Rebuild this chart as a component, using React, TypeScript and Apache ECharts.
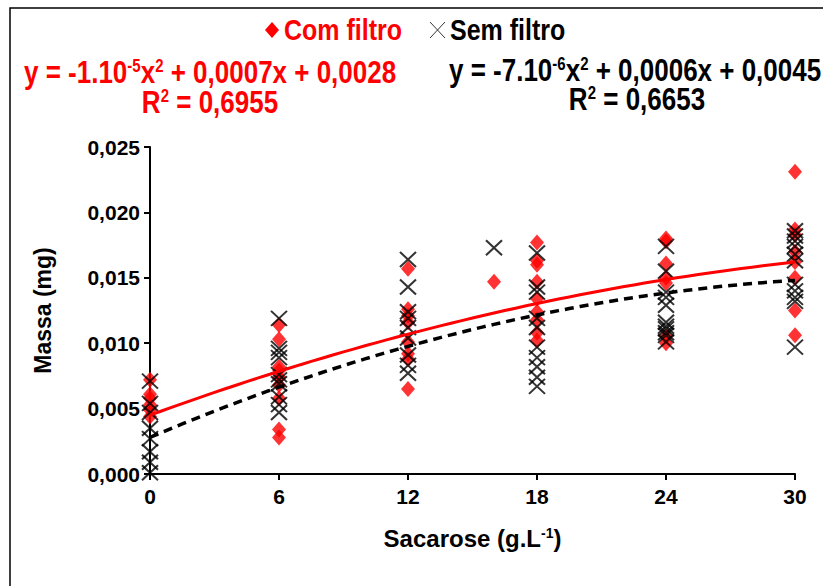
import React, { useEffect, useRef } from "react";
import * as echarts from "echarts";

// Doses of sucrose (g.L-1)
const doses = [0, 6, 12, 16, 18, 24, 30];

// "Com filtro" values (mg) per dose
const com0 = [0.0072, 0.0061, 0.0058, 0.0053, 0.0049, 0.0044];
const com6 = [0.0114, 0.0103, 0.0082, 0.0079, 0.0074, 0.0068, 0.0058, 0.0034, 0.0028];
const com12 = [0.0157, 0.0126, 0.0121, 0.0116, 0.0101, 0.0092, 0.0088, 0.0065];
const com16 = [0.0147];
const com18 = [0.0177, 0.0163, 0.016, 0.0147, 0.0134, 0.0124, 0.0118, 0.0108, 0.0102];
const com24 = [0.018, 0.0178, 0.0161, 0.015, 0.0146, 0.0105, 0.01];
const com30 = [0.0231, 0.0187, 0.0183, 0.017, 0.0162, 0.015, 0.0125, 0.0106];

// "Sem filtro" values (mg) per dose
const sem0 = [0.0071, 0.0054, 0.0047, 0.0035, 0.0027, 0.0017, 0.0009, 0.0001];
const sem6 = [0.0119, 0.0096, 0.0093, 0.0089, 0.0076, 0.0072, 0.0069, 0.0059, 0.0053, 0.0047];
const sem12 = [0.0164, 0.0143, 0.0124, 0.0119, 0.0112, 0.0104, 0.0091, 0.0083, 0.0077];
const sem16 = [0.0173];
const sem18 = [0.0169, 0.0143, 0.0139, 0.0119, 0.0112, 0.0097, 0.0089, 0.0082, 0.0074, 0.0067];
const sem24 = [0.0174, 0.0155, 0.0139, 0.0135, 0.0129, 0.0116, 0.0113, 0.0111, 0.0108, 0.0106, 0.0101];
const sem30 = [0.0186, 0.0182, 0.0178, 0.0174, 0.0168, 0.0163, 0.0145, 0.014, 0.0135, 0.0132, 0.0097];

// Trend-line coefficients [a, b, c] for a*x^2 + b*x + c (as drawn)
const trendRed = [-0.000007, 0.0006, 0.0045];
const trendBlack = [-0.00001, 0.0007, 0.0028];

const xTicks = [0, 6, 12, 18, 24, 30];
const yTicks = [0, 0.005, 0.01, 0.015, 0.02, 0.025];

const eqRed = "y = -1.10{s|-5}x{s|2} + 0,0007x + 0,0028";
const r2Red = "R{s|2} = 0,6955";
const eqBlack = "y = -7.10{s|-6}x{s|2} + 0,0006x + 0,0045";
const r2Black = "R{s|2} = 0,6653";

const comGroups = [com0, com6, com12, com16, com18, com24, com30];
const semGroups = [sem0, sem6, sem12, sem16, sem18, sem24, sem30];

const toPairs = (groups: number[][]) =>
  groups.flatMap((g, i) => g.map((v) => [doses[i], v]));

const trendPoints = (c: number[]) => {
  const pts: number[][] = [];
  for (let x = 0; x <= 30; x += 0.5) pts.push([x, c[0] * x * x + c[1] * x + c[2]]);
  return pts;
};

const FONT = "'Liberation Sans', Arial, sans-serif";
const RED = "#ff0000";

export default function App() {
  const ref = useRef<HTMLDivElement>(null);
  useEffect(() => {
    if (!ref.current) return;
    const chart = echarts.init(ref.current, null, { renderer: "svg" });
    const bigText = (
      text: string,
      x: number,
      y: number,
      color: string,
      align: string,
      size = 25
    ) => ({
      type: "text",
      x,
      y,
      scaleY: 1.18,
      style: {
        text,
        fill: color,
        font: `bold ${size}px ${FONT}`,
        textAlign: align,
        textVerticalAlign: "middle",
        rich: {
          s: {
            fill: color,
            fontFamily: FONT,
            fontWeight: "bold",
            fontSize: 15,
            padding: [0, 0, 11, 0],
          },
        },
      },
    });
    chart.setOption({
      animation: false,
      backgroundColor: "#ffffff",
      grid: { left: 150, right: 28, top: 147, bottom: 112, outerBoundsMode: "none" },
      xAxis: {
        type: "value",
        min: 0,
        max: 30,
        interval: 6,
        name: "Sacarose (g.L{s|-1})",
        nameLocation: "middle",
        nameGap: 52,
        nameTextStyle: {
          fontFamily: FONT,
          fontWeight: "bold",
          fontSize: 24,
          color: "#000",
          rich: {
            s: {
              fontFamily: FONT,
              fontWeight: "bold",
              fontSize: 14,
              color: "#000",
              padding: [0, 0, 10, 0],
            },
          },
        },
        axisLine: { show: true, lineStyle: { color: "#000", width: 2 } },
        axisTick: { show: true, length: 6, lineStyle: { color: "#000", width: 2 } },
        axisLabel: {
          fontFamily: FONT,
          fontWeight: "bold",
          fontSize: 21,
          color: "#000",
          margin: 12,
          formatter: (v: number) => (xTicks.includes(v) ? String(v) : ""),
        },
        splitLine: { show: false },
      },
      yAxis: {
        type: "value",
        min: 0,
        max: 0.025,
        interval: 0.005,
        name: "Massa (mg)",
        nameLocation: "middle",
        nameGap: 96,
        nameTextStyle: { fontFamily: FONT, fontWeight: "bold", fontSize: 23, color: "#000" },
        axisLine: { show: true, lineStyle: { color: "#000", width: 2 } },
        axisTick: { show: true, length: 6, lineStyle: { color: "#000", width: 2 } },
        axisLabel: {
          fontFamily: FONT,
          fontWeight: "bold",
          fontSize: 21,
          color: "#000",
          margin: 10,
          formatter: (v: number) => {
            const t = yTicks.find((k) => Math.abs(k - v) < 1e-9);
            return t === undefined ? "" : t.toFixed(3).replace(".", ",");
          },
        },
        splitLine: { show: false },
      },
      series: [
        {
          name: "Com filtro",
          type: "scatter",
          data: toPairs(comGroups),
          symbol: "diamond",
          symbolSize: [14, 16],
          itemStyle: { color: RED },
          z: 2,
        },
        {
          name: "Sem filtro",
          type: "scatter",
          data: toPairs(semGroups),
          symbol: "path://M0,0L10,10M10,0L0,10",
          symbolSize: [16, 15],
          itemStyle: { color: "none", borderColor: "#000", borderWidth: 2 },
          z: 3,
        },
        {
          name: "trend-red",
          type: "line",
          data: trendPoints(trendRed),
          symbol: "none",
          lineStyle: { color: RED, width: 3 },
          z: 4,
        },
        {
          name: "trend-black",
          type: "line",
          data: trendPoints(trendBlack),
          symbol: "none",
          lineStyle: { color: "#000", width: 3.5, type: [9, 6] },
          z: 4,
        },
      ],
      graphic: [
        {
          type: "rect",
          shape: { x: 10, y: 8, width: 840, height: 620 },
          style: { fill: "none", stroke: "#000", lineWidth: 1.5 },
          silent: true,
        },
        {
          type: "polygon",
          shape: { points: [[272, 22], [279, 30], [272, 38], [265, 30]] },
          style: { fill: RED },
        },
        bigText("Com filtro", 284, 30, RED, "left"),
        {
          type: "line",
          shape: { x1: 430, y1: 22, x2: 445, y2: 38 },
          style: { stroke: "#333", lineWidth: 1 },
        },
        {
          type: "line",
          shape: { x1: 445, y1: 22, x2: 430, y2: 38 },
          style: { stroke: "#333", lineWidth: 1 },
        },
        bigText("Sem filtro", 450, 30, "#000", "left"),
        bigText(eqRed, 24, 72, RED, "left", 26),
        bigText(r2Red, 210, 102, RED, "center", 26),
        bigText(eqBlack, 449, 70, "#000", "left", 26),
        bigText(r2Black, 637, 99, "#000", "center", 26),
      ],
    });
    return () => chart.dispose();
  }, []);
  return (
    <div
      ref={ref}
      style={{ position: "fixed", left: 0, top: 0, width: 823, height: 586, background: "#fff" }}
    />
  );
}
